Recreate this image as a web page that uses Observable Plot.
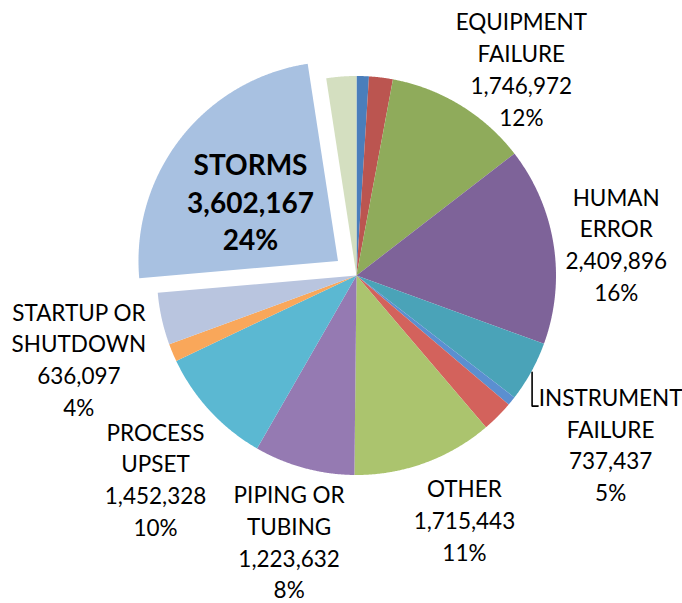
<!DOCTYPE html>
<html>
<head>
<meta charset="utf-8">
<script src="https://cdn.jsdelivr.net/npm/d3@7"></script>
<script src="https://cdn.jsdelivr.net/npm/@observablehq/plot@0.6"></script>
<style>
  body { margin: 0; background: #ffffff; }
  #chart { width: 682px; height: 603px; }
</style>
</head>
<body>
<div id="chart"></div>
<script>
// ---- data (clockwise from 12 o'clock) ----
const categories = [
  "ACCIDENT", "CORROSION", "EQUIPMENT FAILURE", "HUMAN ERROR", "INSTRUMENT FAILURE",
  "LIGHTNING", "MAINTENANCE", "OTHER", "PIPING OR TUBING", "PROCESS UPSET",
  "RUPTURE", "STARTUP OR SHUTDOWN", "STORMS", "UNKNOWN"
];
const values = [
  150000, 290000, 1746972, 2409896, 737437,
  110000, 385000, 1715443, 1223632, 1452328,
  215000, 636097, 3602167, 365000
];
const colors = [
  "#4a7ebb", "#bb5550", "#8fab5b", "#7e6399", "#4aa3b8",
  "#5b8fd0", "#d3625c", "#abc46e", "#957ab2", "#5bb8d2",
  "#f9a75a", "#b9c5df", "#a8c1e1", "#d4dfc0"
];
const explodedCategory = "STORMS";

// ---- layout (not data) ----
const W = 682, H = 603;
const Rpx = 199.5;            // pie radius in px
const cxPx = 356, cyPx = 275; // pie centre in px
const explode = 0.118;        // radial offset of exploded slice (in radii)
const fontSize = 22.5, lineH = 31.7;
const boldSize = 28, boldLineH = 37.7;
// label placement relative to the slice's mid angle: [angle nudge (deg), distance (radii)]
const labelPlacement = {
  "EQUIPMENT FAILURE": [7.0, 1.329],
  "HUMAN ERROR": [1.65, 1.312],
  "INSTRUMENT FAILURE": [4.6, 1.527],
  "OTHER": [-4.0, 1.334],
  "PIPING OR TUBING": [-1.0, 1.372],
  "PROCESS UPSET": [-2.5, 1.43],
  "STARTUP OR SHUTDOWN": [-4.0, 1.452],
  "STORMS": [-3.5, 0.533]
};

const rows = categories.map((c, i) => ({cat: c, value: values[i]}));
const total = d3.sum(values);
const arcs = d3.pie().sort(null).value(d => d.value)(rows);

const polar = (a, r) => [r * Math.sin(a), r * Math.cos(a)];
const deg = Math.PI / 180;

// slice polygons
const slicePts = [];
for (const a of arcs) {
  const mid = (a.startAngle + a.endAngle) / 2;
  const off = a.data.cat === explodedCategory ? polar(mid, explode) : [0, 0];
  const pts = [[off[0], off[1]]];
  const steps = Math.max(2, Math.ceil((a.endAngle - a.startAngle) / (0.25 * deg)));
  for (let k = 0; k <= steps; k++) {
    const t = a.startAngle + (a.endAngle - a.startAngle) * k / steps;
    const p = polar(t, 1);
    pts.push([p[0] + off[0], p[1] + off[1]]);
  }
  for (const p of pts) slicePts.push({cat: a.data.cat, x: p[0], y: p[1]});
}

// greedy wrap of category names
function wrap(s, max = 10) {
  const words = s.split(" ");
  const lines = [];
  let cur = "";
  for (const w of words) {
    if (!cur) cur = w;
    else if ((cur + " " + w).length <= max) cur += " " + w;
    else { lines.push(cur); cur = w; }
  }
  if (cur) lines.push(cur);
  return lines;
}

const fmt = d3.format(",");
const labels = [];
for (const a of arcs) {
  const share = a.data.value / total;
  if (share < 0.035) continue;
  const mid = (a.startAngle + a.endAngle) / 2;
  const [dA, k] = labelPlacement[a.data.cat] || [0, 1.35];
  const off = a.data.cat === explodedCategory ? polar(mid, explode) : [0, 0];
  const p = polar(mid + dA * deg, k);
  const lines = [...wrap(a.data.cat), fmt(a.data.value), Math.round(share * 100) + "%"];
  labels.push({
    cat: a.data.cat, x: p[0] + off[0], y: p[1] + off[1],
    text: lines.join("\n"), n: lines.length, first: lines[0],
    bold: a.data.cat === explodedCategory, mid
  });
}

// leader line for the label that sits far from its slice (instrument failure)
const ctx = document.createElement("canvas").getContext("2d");
ctx.font = `${fontSize}px Lato`;
const leader = [];
const inst = labels.find(d => d.cat === "INSTRUMENT FAILURE");
if (inst) {
  const p0 = polar(inst.mid, 1.005);
  // Plot puts the first baseline (0.82 - n/2) line-heights from the centre (screen px, down positive)
  const baseOffPx = (0.82 - inst.n / 2) * lineH;
  const yb = inst.y - baseOffPx / Rpx; // y axis points up
  const left = inst.x - (ctx.measureText(inst.first).width / 2 + 2) / Rpx;
  leader.push({x: p0[0], y: p0[1]}, {x: p0[0], y: yb}, {x: Math.max(left, p0[0] + 6 / Rpx), y: yb});
}

const plain = labels.filter(d => !d.bold);
const bold = labels.filter(d => d.bold);

const chart = Plot.plot({
  width: W, height: H,
  margin: 0,
  x: {domain: [-cxPx / Rpx, (W - cxPx) / Rpx], range: [0, W], axis: null},
  y: {domain: [-(H - cyPx) / Rpx, cyPx / Rpx], range: [H, 0], axis: null},
  color: {domain: categories, range: colors},
  style: {fontFamily: "Lato, 'Open Sans', sans-serif", background: "#ffffff", overflow: "visible"},
  marks: [
    Plot.line(slicePts, {x: "x", y: "y", z: "cat", fill: "cat", stroke: "none", curve: "linear-closed"}),
    Plot.line(leader, {x: "x", y: "y", stroke: "#000000", strokeWidth: 1.6}),
    Plot.text(plain, {
      x: "x", y: "y", text: "text", fill: "#000000",
      fontSize: fontSize, lineHeight: lineH / fontSize,
      textAnchor: "middle", lineAnchor: "middle", fontFamily: "Lato"
    }),
    Plot.text(bold, {
      x: "x", y: "y", text: "text", fill: "#000000",
      fontSize: boldSize, fontWeight: "bold", lineHeight: boldLineH / boldSize,
      textAnchor: "middle", lineAnchor: "middle", fontFamily: "Lato"
    })
  ]
});
document.getElementById("chart").appendChild(chart);
</script>
</body>
</html>
